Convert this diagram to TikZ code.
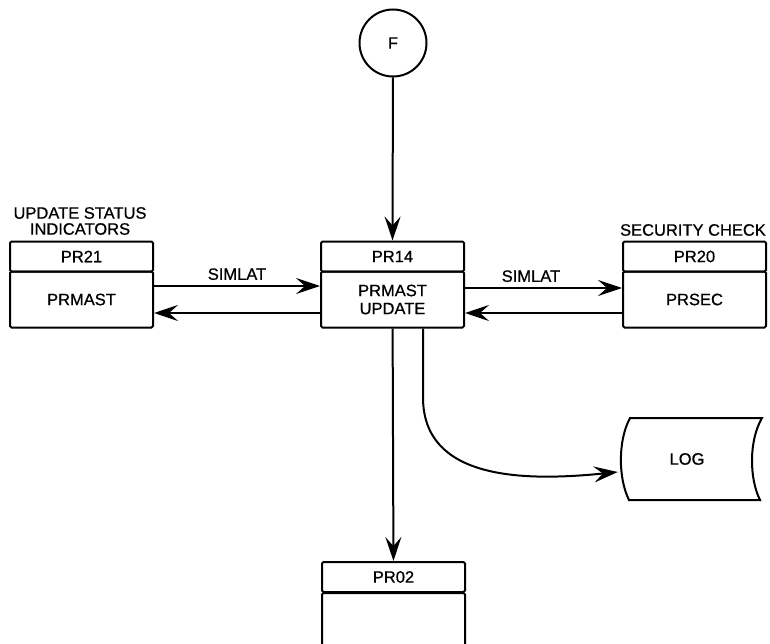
\documentclass[tikz,border=0pt]{standalone}
\usepackage{fontspec}
\setmainfont{Liberation Sans}[UprightFeatures={FakeBold=0.7}]
\usetikzlibrary{arrows.meta,positioning}
\tikzset{
  lbl/.style={font=\fontsize{16.5}{16}\selectfont, inner sep=0pt, align=center},
  hd/.style={draw, line width=2pt, rounded corners=1.5pt, minimum width=143pt, minimum height=30pt, inner sep=0pt, font=\fontsize{16.5}{16}\selectfont},
  bd/.style={draw, line width=2pt, rounded corners=1.5pt, minimum width=143pt, minimum height=56pt, inner sep=0pt, align=center, font=\fontsize{16.5}{18}\selectfont},
  arr/.style={line width=2pt, -{Stealth[length=24pt,width=16pt,inset=9pt]}},
}
\begin{document}
\begin{tikzpicture}[x=1pt,y=-1pt]
\clip (0,0) rectangle (770,644);
\fill[white] (0,0) rectangle (770,644);

% connector F
\node[draw, circle, line width=2pt, minimum size=67pt, inner sep=0pt, font=\fontsize{16.5}{16}\selectfont] (f) at (393,43) {F};

% PR14
\node[hd] (pr14h) at (392.5,256.5) {PR14};
\node[bd] (pr14) at (392.5,299.5) {PRMAST\\UPDATE};

% PR21
\node[hd] (pr21h) at (81.5,256.5) {PR21};
\node[bd] (pr21) at (81.5,299.5) {PRMAST};
\node[lbl] (t21) at (80,221) {UPDATE STATUS\\INDICATORS};

% PR20
\node[hd] (pr20h) at (694.5,256.5) {PR20};
\node[bd] (pr20) at (694.5,299.5) {PRSEC};
\node[lbl] (t20) at (693,230) {SECURITY CHECK};

% PR02
\node[hd] (pr02h) at (393.5,577) {PR02};
\node[bd, minimum height=120pt] (pr02) at (393.5,653) {};

% LOG
\node[minimum width=130pt, minimum height=82pt, inner sep=0pt, font=\fontsize{16.5}{16}\selectfont] (log) at (687,459) {LOG};
\draw[line width=2pt] (630,418) -- (762,418)
  .. controls (749,440) and (749,478) .. (760,500)
  -- (629,500)
  .. controls (618,478) and (618,440) .. (630,418) -- cycle;

% arrows
\draw[arr] (f) -- (pr14h);
\draw[arr] ([yshift=13.5pt]pr21.east) -- node[lbl, above=5pt] (s1) {SIMLAT} ([yshift=13.5pt]pr14.west);
\draw[arr] ([yshift=-13.5pt]pr14.west) -- ([yshift=-13.5pt]pr21.east);
\draw[arr] ([yshift=11.5pt]pr14.east) -- node[lbl, above=5pt, pos=0.42] (s2) {SIMLAT} ([yshift=11.5pt]pr20.west);
\draw[arr] ([yshift=-13.5pt]pr20.west) -- ([yshift=-13.5pt]pr14.east);
\draw[arr] (pr14) -- (pr02h);
\draw[arr] ([xshift=30.5pt]pr14.south) -- +(0,70)
  .. controls +(1,80) and (520,482) .. ([xshift=-4pt,yshift=-13pt]log.west);
\end{tikzpicture}
\end{document}
